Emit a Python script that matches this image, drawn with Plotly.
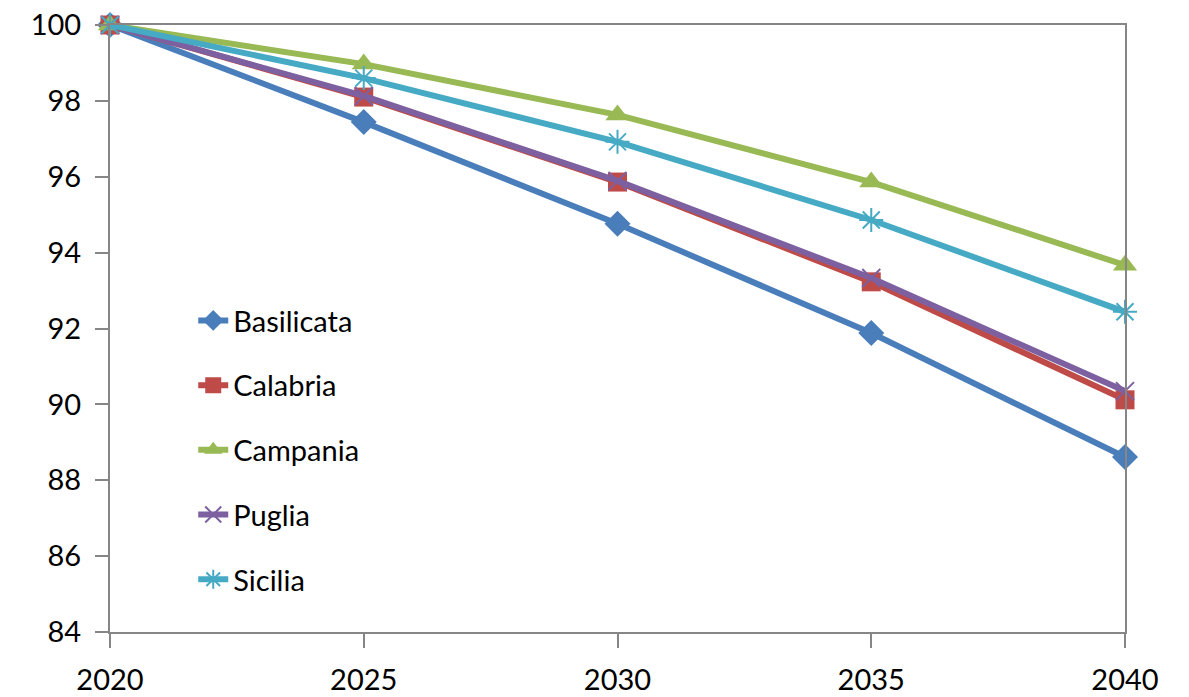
import plotly.graph_objects as go

years = [2020, 2025, 2030, 2035, 2040]
basilicata = [100, 97.44, 94.76, 91.88, 88.61]
calabria = [100, 98.10, 95.86, 93.23, 90.12]
campania = [100, 98.97, 97.63, 95.86, 93.67]
puglia = [100, 98.13, 95.89, 93.33, 90.35]
sicilia = [100, 98.60, 96.92, 94.86, 92.44]

series = [
    ("Basilicata", basilicata, "#4A7EBB", "diamond", 20, 0),
    ("Calabria", calabria, "#BE4B48", "square", 19, 0),
    ("Campania", campania, "#98B954", "triangle-up", 21, 0),
    ("Puglia", puglia, "#7D60A0", "x-thin-open", 18, 2),
    ("Sicilia", sicilia, "#46AAC5", "asterisk-open", 20, 2),
]

fig = go.Figure()
for i, (name, vals, color, sym, size, lw) in enumerate(series):
    marker = dict(symbol=sym, size=size, color=color)
    if lw:
        marker["line"] = dict(color=color, width=lw)
    else:
        marker["line"] = dict(width=0)
    fig.add_trace(go.Scatter(
        x=years, y=vals, name=name, mode="lines+markers",
        line=dict(color=color, width=6),
        marker=marker, cliponaxis=False, legendgroup=name,
    ))

font = dict(family="Lato, Carlito, Liberation Sans, sans-serif", size=29, color="#000000")
fig.update_layout(
    width=1189, height=697,
    margin=dict(l=110, r=64, t=25, b=65, autoexpand=False),
    paper_bgcolor="white", plot_bgcolor="white",
    font=font,
    showlegend=True,
    legend=dict(x=0.082, y=0.555, xanchor="left", yanchor="top",
                bgcolor="rgba(0,0,0,0)", font=font, tracegroupgap=24,
                itemwidth=30),
    xaxis=dict(range=[2020, 2040], tickvals=years, ticks="outside", ticklen=14,
               tickcolor="#868686", tickwidth=2, showline=True, linecolor="#868686",
               linewidth=2, mirror=True, showgrid=False, zeroline=False,
               ticklabelstandoff=7, automargin=False, ticklabeloverflow="allow"),
    yaxis=dict(range=[84, 100], dtick=2, ticks="outside", ticklen=13,
               tickcolor="#868686", tickwidth=2, showline=True, linecolor="#868686",
               linewidth=2, mirror=True, showgrid=False, zeroline=False,
               ticklabelstandoff=8, automargin=False, ticklabeloverflow="allow"),
)
fig.write_html("out.html", config={"displayModeBar": False},
               post_script="document.body.style.margin='0';")
